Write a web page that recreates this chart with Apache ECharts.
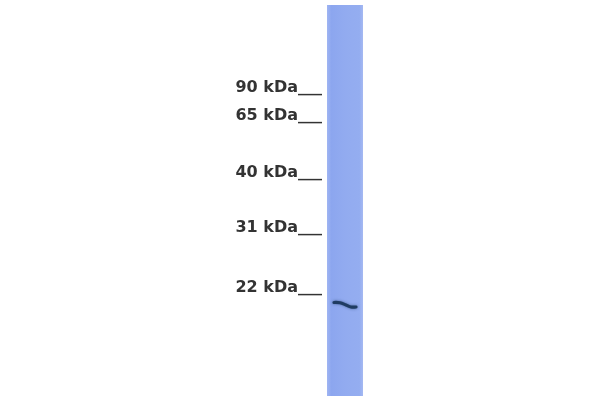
<!DOCTYPE html>
<html>
<head>
<meta charset="utf-8">
<script src="https://cdn.jsdelivr.net/npm/echarts@6/dist/echarts.min.js"></script>
<style>html,body{margin:0;padding:0;background:#fff}#c{width:600px;height:400px}</style>
</head>
<body>
<div id="c"></div>
<script>
// ---- data ----
const markerLabels = ['90 kDa', '65 kDa', '40 kDa', '31 kDa', '22 kDa'];
const markerMigration = [97, 125, 182, 237, 297];   // migration distance of each marker
const laneNames = ['Sample'];
const bandMigration = [305];                          // migration distance of detected band
const bandIntensity = [1];

// ---- layout / style (not data) ----
const L = {
  laneCenter: 345, laneHalfW: 18, laneTop: 5, laneBottom: 396,
  markerRight: 322,
  bandDx: [-11, -5, 1, 6, 11], bandDy: [-2.5, -2.2, 0, 2, 2]
};

const chart = echarts.init(document.getElementById('c'), null, {renderer: 'canvas'});
chart.setOption({
  backgroundColor: '#ffffff',
  animation: false,
  grid: {left: 0, right: 0, top: 0, bottom: 0},
  xAxis: {type: 'value', min: 0, max: 600, show: false},
  yAxis: {type: 'value', min: 0, max: 400, inverse: true, show: false},
  series: [
    {
      type: 'custom', name: 'lane', z: 1,
      data: laneNames.map((n, i) => [i]),
      renderItem: function (params, api) {
        const p1 = api.coord([L.laneCenter - L.laneHalfW, L.laneTop]);
        const p2 = api.coord([L.laneCenter + L.laneHalfW, L.laneBottom]);
        return {
          type: 'rect',
          shape: {x: p1[0], y: p1[1], width: p2[0] - p1[0], height: p2[1] - p1[1]},
          style: {
            fill: new echarts.graphic.LinearGradient(0, 0, 1, 0, [
              {offset: 0, color: '#a0b5f2'},
              {offset: 0.12, color: '#8ca6ef'},
              {offset: 0.5, color: '#92abf0'},
              {offset: 0.9, color: '#94adf0'},
              {offset: 1, color: '#a5b9f2'}
            ])
          }
        };
      }
    },
    {
      type: 'custom', name: 'band', z: 3,
      data: bandMigration.map((m, i) => [L.laneCenter, m, bandIntensity[i]]),
      renderItem: function (params, api) {
        const cx = api.value(0), cy = api.value(1);
        const pts = L.bandDx.map((dx, k) => api.coord([cx + dx, cy + L.bandDy[k]]));
        return {
          type: 'polyline',
          shape: {points: pts, smooth: 0.4},
          style: {
            stroke: '#1f3c62', lineWidth: 3.2, fill: null, lineCap: 'round',
            shadowBlur: 3, shadowColor: 'rgba(30,58,96,0.6)'
          }
        };
      }
    },
    {
      type: 'custom', name: 'markers', z: 4,
      data: markerMigration.map((m, i) => [L.markerRight, m, i]),
      renderItem: function (params, api) {
        const p = api.coord([api.value(0), api.value(1)]);
        return {
          type: 'text',
          x: p[0], y: p[1],
          style: {
            text: markerLabels[api.value(2)] + '___',
            textAlign: 'right', textVerticalAlign: 'middle',
            fontFamily: 'DejaVu Sans', fontWeight: 'bold', fontSize: 16,
            fill: '#333333', y: -9
          }
        };
      }
    }
  ]
});
</script>
</body>
</html>
